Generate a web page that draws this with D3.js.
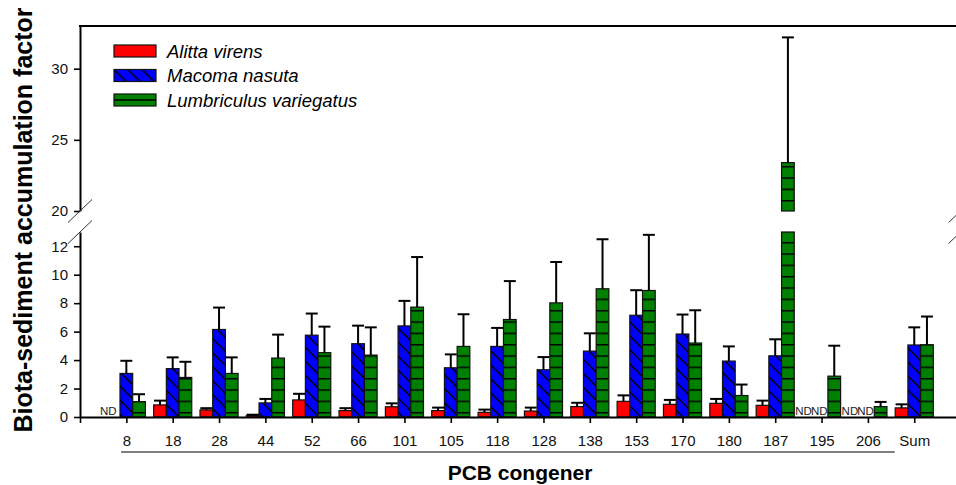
<!DOCTYPE html>
<html><head><meta charset="utf-8">
<script src="https://cdn.jsdelivr.net/npm/d3@7"></script>
<style>
body{margin:0;background:#fff}
svg{display:block}
text{font-family:"Liberation Sans",Arial,Helvetica,sans-serif}
</style>
</head><body>
<svg id="c" width="956" height="485"></svg>
<script>
// ---------------- data ----------------
const categories = ["8","18","28","44","52","66","101","105","118","128","138","153","170","180","187","195","206","Sum"];
const seriesNames = ["Alitta virens","Macoma nasuta","Lumbriculus variegatus"];
// null = ND (not detected)
const alittaMean = [null,0.85,0.50,0.12,1.20,0.45,0.72,0.45,0.33,0.42,0.73,1.10,0.89,0.96,0.82,null,null,0.64];
const alittaSD   = [null,0.30,0.12,0.04,0.43,0.17,0.24,0.21,0.19,0.24,0.27,0.42,0.31,0.31,0.33,null,null,0.25];
const macomaMean = [3.06,3.40,6.15,0.99,5.75,5.15,6.40,3.46,4.96,3.32,4.63,7.15,5.83,3.93,4.30,null,null,5.06];
const macomaSD   = [0.89,0.79,1.54,0.28,1.52,1.27,1.76,0.94,1.30,0.89,1.25,1.76,1.37,1.03,1.16,null,null,1.24];
const lumbMean   = [1.08,2.78,3.06,4.14,4.52,4.35,7.72,4.96,6.85,8.02,9.01,8.89,5.20,1.51,23.4,2.87,0.73,5.08];
const lumbSD     = [0.52,1.10,1.13,1.65,1.83,1.95,3.52,2.26,2.70,2.87,3.48,3.91,2.30,0.77,8.80,2.14,0.33,1.98];
const lowTicks  = [0,2,4,6,8,10,12];
const highTicks = [20,25,30];
const lowDomain = [0,13];
const highDomain = [20,33];
const bracketRange = [0.885, 17.58]; // underline grouping congeners 8..206 (in x units)

const seriesMean = [alittaMean, macomaMean, lumbMean];
const seriesSD = [alittaSD, macomaSD, lumbSD];
const fills = ["#ff0000","url(#hatchBlue)","url(#hatchGreenLo)"];
const fillsHi = ["#ff0000","url(#hatchBlue)","url(#hatchGreenHi)"];

// ---------------- scales ----------------
const svg = d3.select("#c");
const x = d3.scaleLinear().domain([0, 19]).range([80, 960.6]);
const yLow = d3.scaleLinear().domain(lowDomain).range([417, 232]).clamp(true);
const yHigh = d3.scaleLinear().domain(highDomain).range([211, 26]).clamp(true);
const sub = d3.scaleBand().domain(seriesNames).range([-0.411, 0.411]);
const bwU = sub.bandwidth();
const bwPx = x(bwU) - x(0);

// ---------------- defs ----------------
const defs = svg.append("defs");
const P = 14;
const pb = defs.append("pattern").attr("id","hatchBlue").attr("patternUnits","userSpaceOnUse")
  .attr("width",P).attr("height",P);
pb.append("rect").attr("width",P).attr("height",P).attr("fill","#0000ff");
pb.append("path").attr("d",`M-1,-1 L${P+1},${P+1} M-2,${P-2} L2,${P+2} M${P-2},-2 L${P+2},2`)
  .attr("stroke","#000").attr("stroke-width",1.4);

function greenPattern(id, yOff){
  const p = defs.append("pattern").attr("id",id).attr("patternUnits","userSpaceOnUse")
    .attr("width",10).attr("height",34/3).attr("y",yOff);
  p.append("rect").attr("width",10).attr("height",34/3).attr("fill","#008000");
  p.append("line").attr("x1",0).attr("x2",10).attr("y1",0.75).attr("y2",0.75).attr("stroke","#000").attr("stroke-width",1.5);
}
greenPattern("hatchGreenLo", yLow(0) - 4.3 - 0.75);
greenPattern("hatchGreenHi", yHigh(20) - 10.3 - 0.75);

defs.append("clipPath").attr("id","clipLow").append("rect")
  .attr("x",x(0)).attr("y",yLow(lowDomain[1])-1).attr("width",x(19)-x(0)).attr("height",yLow(0)-yLow(lowDomain[1])+1);
defs.append("clipPath").attr("id","clipHigh").append("rect")
  .attr("x",x(0)).attr("y",yHigh(highDomain[1])).attr("width",x(19)-x(0)).attr("height",yHigh(20)-yHigh(highDomain[1])+1);

// ---------------- bars ----------------
const barData = [];
seriesNames.forEach((s, si) => {
  categories.forEach((c, ci) => {
    barData.push({s, si, ci, c, v: seriesMean[si][ci], sd: seriesSD[si][ci]});
  });
});
const present = barData.filter(d => d.v !== null);
const bx = d => x(d.ci + 1 + sub(d.s));

const gLow = svg.append("g").attr("clip-path","url(#clipLow)");
gLow.selectAll("rect").data(present).join("rect")
  .attr("x", bx).attr("width", bwPx)
  .attr("y", d => yLow(d.v)).attr("height", d => yLow(0) - yLow(d.v))
  .attr("fill", d => fills[d.si]).attr("stroke","#111").attr("stroke-width",1.2);

const gHigh = svg.append("g").attr("clip-path","url(#clipHigh)");
gHigh.selectAll("rect").data(present.filter(d => d.v > highDomain[0])).join("rect")
  .attr("x", bx).attr("width", bwPx)
  .attr("y", d => yHigh(d.v)).attr("height", d => yHigh(20) - yHigh(d.v))
  .attr("fill", d => fillsHi[d.si]).attr("stroke","#111").attr("stroke-width",1.2);

// ---------------- error bars ----------------
const capHalf = bwPx * 0.47;
const eb = svg.append("g").attr("stroke","#000").attr("stroke-width",2).attr("fill","none");
present.forEach(d => {
  const top = d.v + d.sd;
  const cx = bx(d) + bwPx/2;
  const sc = (d.v >= highDomain[0]) ? yHigh : yLow;
  eb.append("line").attr("x1",cx).attr("x2",cx).attr("y1",sc(d.v)).attr("y2",sc(top));
  eb.append("line").attr("x1",cx-capHalf).attr("x2",cx+capHalf).attr("y1",sc(top)).attr("y2",sc(top));
});

// ND labels
const ndOff = [3, 6, 6];
svg.append("g").selectAll("text").data(barData.filter(d => d.v === null)).join("text")
  .attr("x", d => bx(d) + bwPx/2 + ndOff[d.si]).attr("y", yLow(0) - 2.5)
  .attr("text-anchor","end").attr("font-size","11.5px").attr("fill","#222").text("ND");

// ---------------- axes ----------------
const axStroke = 2;
const axL = svg.append("g").attr("transform",`translate(${x(0)},0)`)
  .call(d3.axisLeft(yLow).tickValues(lowTicks).tickSize(6).tickPadding(6).tickSizeOuter(0));
const axH = svg.append("g").attr("transform",`translate(${x(0)},0)`)
  .call(d3.axisLeft(yHigh).tickValues(highTicks).tickSize(6).tickPadding(6).tickSizeOuter(0));
const xTickVals = d3.range(0, 20);
const axB = svg.append("g").attr("transform",`translate(0,${yLow(0)})`)
  .call(d3.axisBottom(x).tickValues(xTickVals).tickSize(6).tickPadding(12).tickSizeOuter(0)
    .tickFormat(i => (i >= 1 && i <= categories.length) ? categories[i-1] : ""));
[axL, axH, axB].forEach(a => {
  a.select(".domain").attr("stroke","#000").attr("stroke-width",axStroke);
  a.selectAll(".tick line").attr("stroke","#000").attr("stroke-width",1.6);
  a.selectAll(".tick text").attr("font-size","15px").attr("fill","#111")
    .attr("font-family","'Liberation Sans',Arial,sans-serif");
});
svg.append("line").attr("x1",x(0)-1).attr("x2",x(19)).attr("y1",yHigh(highDomain[1])).attr("y2",yHigh(highDomain[1]))
  .attr("stroke","#000").attr("stroke-width",2);

// break marks
const brk = svg.append("g").attr("stroke","#333").attr("stroke-width",1);
[x(0), x(19)].forEach(bxp => {
  [yHigh(20), yLow(lowDomain[1])].forEach(by => {
    brk.append("line").attr("x1",bxp-12).attr("y1",by+11.5).attr("x2",bxp+12).attr("y2",by-11.5);
  });
});

// bracket line under congener labels
svg.append("line").attr("x1",x(bracketRange[0])).attr("x2",x(bracketRange[1]))
  .attr("y1",452).attr("y2",452).attr("stroke","#000").attr("stroke-width",1.2);

// axis titles
svg.append("text").attr("x",520).attr("y",480).attr("text-anchor","middle")
  .attr("font-size","21px").attr("font-weight","bold").attr("fill","#000").text("PCB congener");
svg.append("text").attr("transform","translate(32,220) rotate(-90)").attr("text-anchor","middle")
  .attr("font-size","25px").attr("font-weight","bold").attr("fill","#000").text("Biota-sediment accumulation factor");

// ---------------- legend ----------------
const legFills = ["#ff0000","url(#hatchBlue)","#008000"];
const leg = svg.append("g").attr("transform","translate(114,45)");
seriesNames.forEach((s, i) => {
  const g = leg.append("g").attr("transform",`translate(0,${i*24.5})`);
  g.append("rect").attr("width",42).attr("height",12).attr("fill",legFills[i])
    .attr("stroke","#111").attr("stroke-width",1.2);
  if (i === 2) g.append("line").attr("x1",0).attr("x2",42).attr("y1",6).attr("y2",6).attr("stroke","#000").attr("stroke-width",1.5);
  g.append("text").attr("x",53).attr("y",12.5).attr("font-size","18.5px").attr("font-style","italic")
    .attr("fill","#000").text(s);
});
</script>
</body></html>
